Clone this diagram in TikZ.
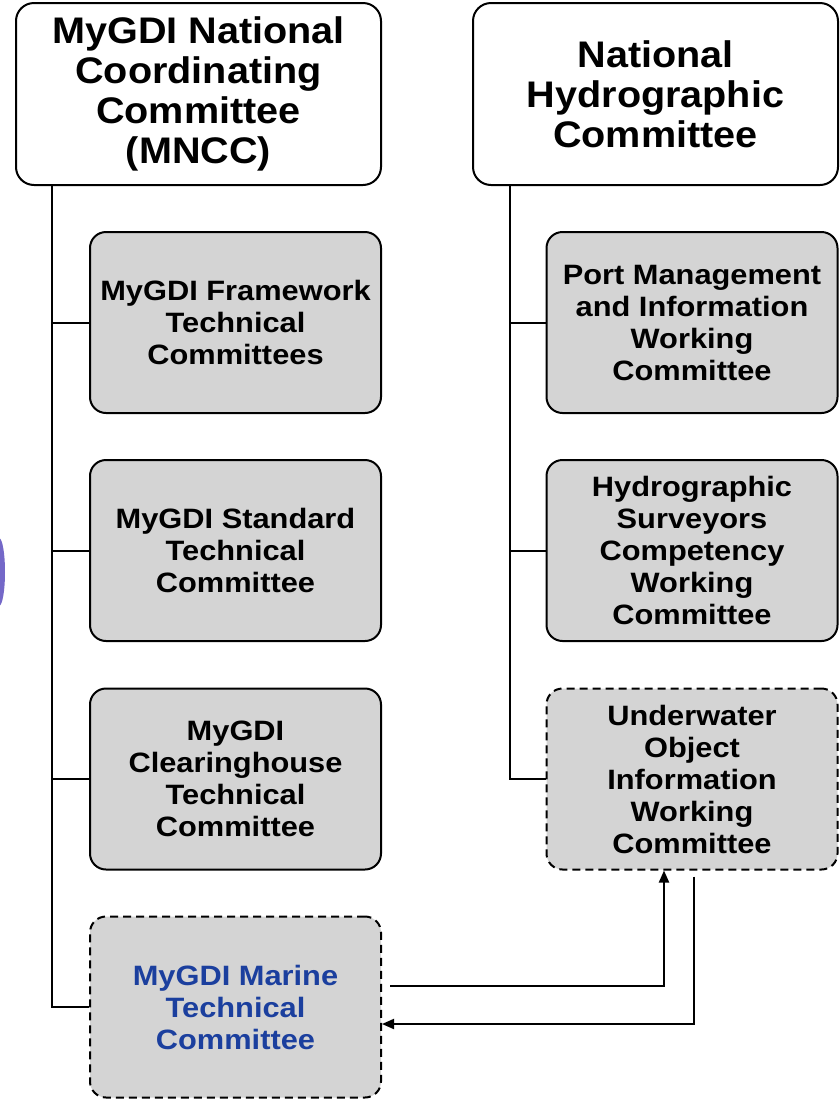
\documentclass[tikz,border=0pt]{standalone}
\usepackage{fontspec}
\setmainfont{Liberation Sans}
\newfontfamily\titlefont[FakeStretch=1.07]{Liberation Sans}
\newfontfamily\subfont[FakeStretch=1.1]{Liberation Sans}
\usetikzlibrary{arrows.meta,calc}
\definecolor{boxgray}{HTML}{D4D4D4}
\definecolor{marineblue}{HTML}{1B3F9E}
\definecolor{artpurple}{HTML}{7468C8}
\begin{document}
\begin{tikzpicture}[x=1pt,y=-1pt,
  topbox/.style={draw=black,line width=2pt,rounded corners=18pt,fill=white,
    minimum width=365pt,minimum height=182pt,align=center,inner sep=0pt,
    font=\titlefont\fontsize{37}{40}\selectfont\bfseries},
  subbox/.style={draw=black,line width=2pt,rounded corners=16pt,fill=boxgray,
    minimum width=291pt,minimum height=181pt,align=center,inner sep=0pt,
    font=\subfont\fontsize{28}{32}\selectfont\bfseries},
  dashbox/.style={subbox,dash pattern=on 8pt off 5pt},
  conn/.style={draw=black,line width=2pt},
  arr/.style={conn,-{Triangle[length=12pt,width=10pt]}}]
\useasboundingbox (0,0) rectangle (839,1104);
\clip (0,0) rectangle (839,1104);
% artifact at left edge
\fill[artpurple] (-1,572) ellipse [x radius=6, y radius=34];
% top boxes
\node[topbox] (mncc) at (198.5,94) {MyGDI National\\Coordinating\\Committee\\(MNCC)};
\node[topbox] (nhc) at (655.5,94) {National\\Hydrographic\\Committee};
% left column
\node[subbox] (m1) at (235.5,322.5) {MyGDI Framework\\Technical\\Committees};
\node[subbox] (m2) at (235.5,550.5) {MyGDI Standard\\Technical\\Committee};
\node[subbox] (m3) at (235.5,779) {MyGDI\\Clearinghouse\\Technical\\Committee};
\node[dashbox,text=marineblue] (m4) at (235.5,1007) {MyGDI Marine\\Technical\\Committee};
% right column
\node[subbox] (h1) at (692,322.5) {Port Management\\and Information\\Working\\Committee};
\node[subbox] (h2) at (692,550.5) {Hydrographic\\Surveyors\\Competency\\Working\\Committee};
\node[dashbox] (h3) at (692,779) {Underwater\\Object\\Information\\Working\\Committee};
% spines
\coordinate (spL) at (52,0);
\coordinate (spR) at (510,0);
\draw[conn] (spL |- mncc.south) -- (spL |- m4.west) -- (m4.west);
\draw[conn] (spL |- m1.west) -- (m1.west);
\draw[conn] (spL |- m2.west) -- (m2.west);
\draw[conn] (spL |- m3.west) -- (m3.west);
\draw[conn] (spR |- nhc.south) -- (spR |- h3.west) -- (h3.west);
\draw[conn] (spR |- h1.west) -- (h1.west);
\draw[conn] (spR |- h2.west) -- (h2.west);
% cross arrows
\coordinate (a1s) at ($(m4.east)+(8,-21)$);
\coordinate (a1x) at ($(h3.south)+(-28,0)$);
\draw[arr] (a1s) -- (a1s -| a1x) -- (a1x);
\coordinate (a2s) at ($(h3.south)+(2,6)$);
\coordinate (a2y) at ($(m4.east)+(0,17)$);
\draw[arr] (a2s) -- (a2s |- a2y) -- (a2y);
\end{tikzpicture}
\end{document}
